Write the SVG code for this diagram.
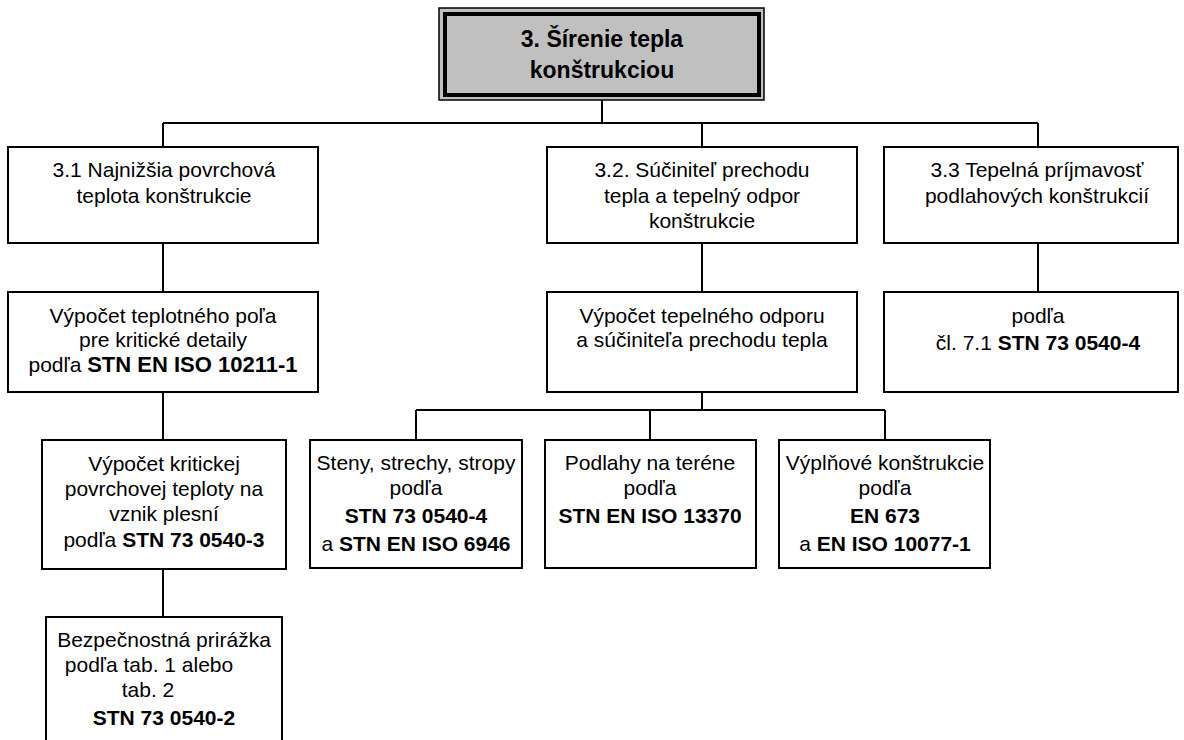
<svg xmlns="http://www.w3.org/2000/svg" width="1184" height="740" viewBox="0 0 1184 740">
<style>
.box{fill:#fff;stroke:#000;stroke-width:2}
.conn{fill:none;stroke:#000;stroke-width:2}
text{font-family:"Liberation Sans",Arial,sans-serif;font-size:21px;fill:#000;text-anchor:middle}
.b{font-weight:bold;font-size:21px}
.title{font-weight:bold;font-size:23px}
</style>
<rect width="1184" height="740" fill="#fff"/>
<g id="connectors">
<path class="conn" d="M602 100V123M163 123H1038M163 123V147M702 123V147M1038 123V147M163 243V292M702 243V292M1038 243V292M163 392V440M163 569V617M702 392V410M416 410H885M416 410V440M650 410V440M885 410V440"/>
</g>
<g id="n3">
<rect x="439" y="8" width="325" height="92" fill="#c0c0c0" stroke="#000" stroke-width="1.5"/>
<rect x="445" y="14" width="314" height="81" fill="none" stroke="#000" stroke-width="4"/>
<text class="title" x="602" y="47">3. Šírenie tepla</text>
<text class="title" x="602" y="78">konštrukciou</text>
</g>
<g id="n31">
<rect class="box" x="8" y="147" width="310" height="96"/>
<text x="164" y="177">3.1 Najnižšia povrchová</text>
<text x="164" y="203">teplota konštrukcie</text>
</g>
<g id="n32">
<rect class="box" x="547" y="147" width="310" height="96"/>
<text x="702" y="177">3.2. Súčiniteľ prechodu</text>
<text x="702" y="203">tepla a tepelný odpor</text>
<text x="702" y="228">konštrukcie</text>
</g>
<g id="n33">
<rect class="box" x="884" y="147" width="294" height="96"/>
<text x="1037" y="177">3.3 Tepelná príjmavosť</text>
<text x="1037" y="203">podlahových konštrukcií</text>
</g>
<g id="n31a">
<rect class="box" x="8" y="292" width="310" height="100"/>
<text x="163" y="323">Výpočet teplotného poľa</text>
<text x="163" y="347">pre kritické detaily</text>
<text x="163" y="372">podľa <tspan class="b" style="font-size:22px">STN EN ISO 10211-1</tspan></text>
</g>
<g id="n32a">
<rect class="box" x="547" y="292" width="310" height="100"/>
<text x="702" y="323">Výpočet tepelného odporu</text>
<text x="702" y="347">a súčiniteľa prechodu tepla</text>
</g>
<g id="n33a">
<rect class="box" x="884" y="292" width="294" height="100"/>
<text x="1038" y="323">podľa</text>
<text x="1038" y="350">čl. 7.1 <tspan class="b">STN 73 0540-4</tspan></text>
</g>
<g id="n31b">
<rect class="box" x="42" y="440" width="244" height="129"/>
<text x="164" y="471">Výpočet kritickej</text>
<text x="164" y="496">povrchovej teploty na</text>
<text x="164" y="521">vznik plesní</text>
<text x="164" y="547">podľa <tspan class="b">STN 73 0540-3</tspan></text>
</g>
<g id="n31c">
<rect class="box" x="46" y="617" width="236" height="140"/>
<text x="164" y="647">Bezpečnostná prirážka</text>
<text x="149" y="672">podľa tab. 1 alebo</text>
<text x="148" y="697">tab. 2</text>
<text class="b" x="164" y="725">STN 73 0540-2</text>
</g>
<g id="n32b1">
<rect class="box" x="310" y="440" width="212" height="128"/>
<text x="416" y="470">Steny, strechy, stropy</text>
<text x="416" y="495">podľa</text>
<text class="b" x="416" y="523">STN 73 0540-4</text>
<text x="416" y="551">a <tspan class="b">STN EN ISO 6946</tspan></text>
</g>
<g id="n32b2">
<rect class="box" x="545" y="440" width="211" height="128"/>
<text x="650" y="470">Podlahy na teréne</text>
<text x="650" y="495">podľa</text>
<text class="b" x="650" y="523">STN EN ISO 13370</text>
</g>
<g id="n32b3">
<rect class="box" x="779" y="440" width="211" height="128"/>
<text x="885" y="470">Výplňové konštrukcie</text>
<text x="885" y="495">podľa</text>
<text class="b" x="885" y="523">EN 673</text>
<text x="885" y="551">a <tspan class="b">EN ISO 10077-1</tspan></text>
</g>
</svg>
